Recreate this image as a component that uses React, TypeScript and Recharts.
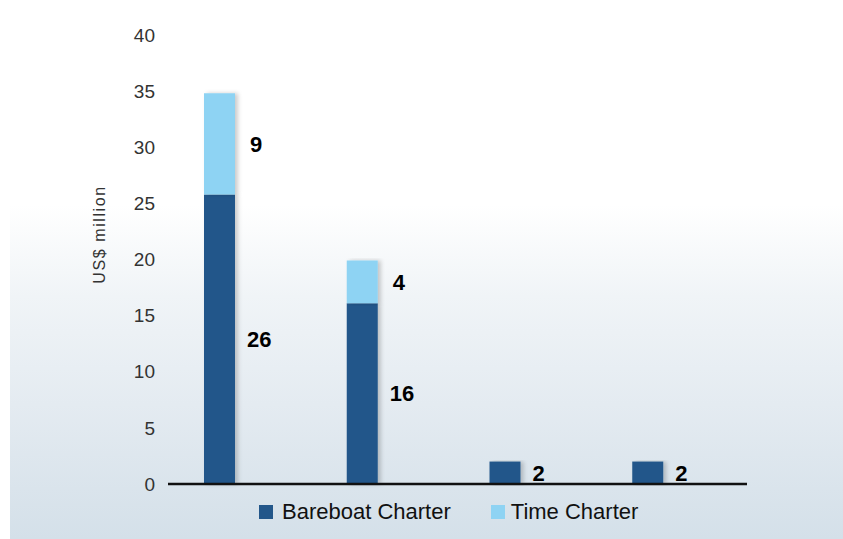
import { BarChart, Bar, XAxis, YAxis, LabelList } from 'recharts';

// four vessel groups, no category labels shown in the source
const categories = ['A', 'B', 'C', 'D'];
const bareboatCharter = [25.8, 16.1, 2.0, 2.0];
const timeCharter: (number | null)[] = [9.0, 3.8, null, null];
const yTicks = [0, 5, 10, 15, 20, 25, 30, 35, 40];

const seriesNames = ['Bareboat Charter', 'Time Charter'];
const seriesColors = ['#23578a', '#8ed3f3'];

const data = categories.map((name, i) => ({
    name,
    bareboat: bareboatCharter[i],
    time: timeCharter[i],
}));

const fmt = (v: any) => (v == null ? '' : String(Math.round(Number(v))));

const labelStyle = {
    fill: '#000',
    fontSize: 22,
    fontWeight: 700,
    fontFamily: '"Liberation Sans", Arial, sans-serif',
};

function YLabel({ viewBox }: any) {
    const x = viewBox.x - 3;
    const y = viewBox.y + viewBox.height / 2 - 25;
    return (
        <text
            x={x}
            y={y}
            transform={`rotate(-90, ${x}, ${y})`}
            textAnchor="middle"
            fill="#333"
            fontSize={16}
            letterSpacing={1.6}
            fontFamily='"Liberation Sans", Arial, sans-serif'
        >
            US$ million
        </text>
    );
}

export default function App() {
    return (
        <div style={{ position: 'absolute', left: 0, top: 0, width: 843, height: 539, background: '#fff', overflow: 'hidden' }}>
            <div
                style={{
                    position: 'absolute',
                    left: 10,
                    top: 0,
                    width: 833,
                    height: 539,
                    background: 'linear-gradient(180deg, #ffffff 0%, #ffffff 38%, #f0f4f7 55%, #e4ebf1 75%, #d4e0e9 100%)',
                }}
            />
            <div style={{ position: 'absolute', left: 0, top: 0 }}>
                <BarChart
                    width={843}
                    height={539}
                    data={data}
                    margin={{ top: 35, right: 96, bottom: 54, left: 108 }}
                    barSize={31}
                    barGap={9}
                >
                    <defs>
                        <filter id="barShadow" x="-20%" y="-5%" width="160%" height="110%">
                            <feDropShadow dx="3" dy="0" stdDeviation="2" floodColor="#000" floodOpacity="0.2" />
                        </filter>
                    </defs>
                    <XAxis
                        dataKey="name"
                        tick={false}
                        tickLine={false}
                        height={1}
                        padding={{ left: 0, right: 8 }}
                        axisLine={{ stroke: '#111', strokeWidth: 2.5 }}
                    />
                    <YAxis
                        width={60}
                        domain={[0, 40]}
                        ticks={yTicks}
                        axisLine={false}
                        tickLine={false}
                        tickMargin={7}
                        tick={{ fill: '#333', fontSize: 19, fontFamily: '"Liberation Sans", Arial, sans-serif' }}
                        label={<YLabel />}
                    />
                    <Bar dataKey="bareboat" name={seriesNames[0]} stackId="a" fill={seriesColors[0]} filter="url(#barShadow)" isAnimationActive={false}>
                        <LabelList dataKey="bareboat" position="right" offset={12} formatter={fmt} style={labelStyle} />
                    </Bar>
                    <Bar dataKey="time" name={seriesNames[1]} stackId="a" fill={seriesColors[1]} filter="url(#barShadow)" isAnimationActive={false}>
                        <LabelList dataKey="time" position="right" offset={15} formatter={fmt} style={labelStyle} />
                    </Bar>
                    {/* empty slot so the stacks sit left of centre, as in the source */}
                    <Bar dataKey="spacer" stackId="b" fill="none" legendType="none" isAnimationActive={false} />
                </BarChart>
            </div>
            <div
                style={{
                    position: 'absolute',
                    left: 259,
                    top: 499,
                    display: 'flex',
                    alignItems: 'center',
                    fontFamily: '"Liberation Sans", Arial, sans-serif',
                    fontSize: 22,
                    color: '#111',
                }}
            >
                {seriesNames.map((n, i) => (
                    <div key={n} style={{ display: 'flex', alignItems: 'center', marginRight: 40 }}>
                        <span style={{ width: 14, height: 14, background: seriesColors[i], marginRight: i === 0 ? 9 : 6 }} />
                        <span>{n}</span>
                    </div>
                ))}
            </div>
        </div>
    );
}
